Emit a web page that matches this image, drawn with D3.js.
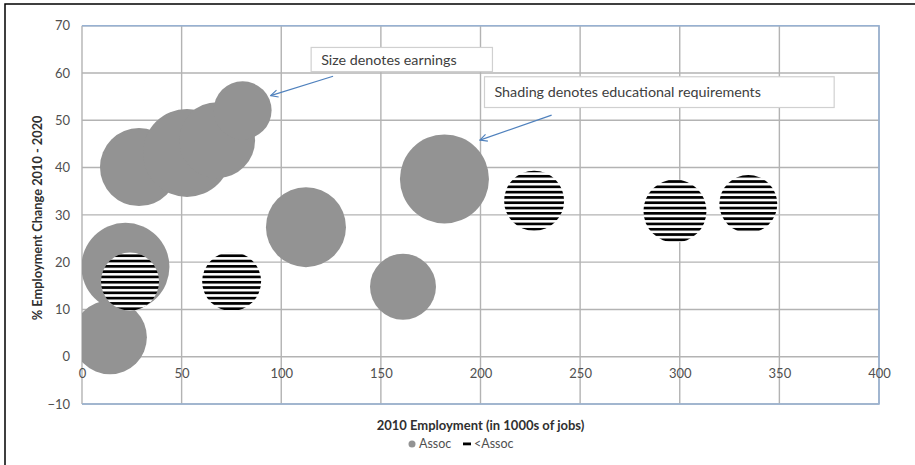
<!DOCTYPE html>
<html>
<head>
<meta charset="utf-8">
<script src="https://cdn.jsdelivr.net/npm/d3@7"></script>
<style>
  html, body { margin: 0; padding: 0; background: #fff; }
  svg { display: block; font-family: Lato, "Open Sans", sans-serif; }
</style>
</head>
<body>
<svg id="chart" width="915" height="465"></svg>
<script>
// ---- Data ----
// Series "Assoc" (solid gray bubbles)
const assocJobs     = [28.6, 52.7, 67.8, 80.6, 112.4, 181.9, 161.1, 21.8, 14.0];
const assocChange   = [40.1, 43.1, 45.8, 52.1, 27.4, 37.6, 14.8, 19.0, 4.1];
const assocEarnings = [48.7, 62.0, 46.2, 26.9, 51.2, 63.4, 34.8, 62.0, 43.8];
// Series "<Assoc" (striped bubbles)
const lessJobs      = [24.1, 75.1, 226.9, 297.6, 334.4];
const lessChange    = [15.9, 15.9, 33.0, 30.8, 32.3];
const lessEarnings  = [26.9, 27.8, 28.8, 31.8, 26.9];

const xTicks = [0, 50, 100, 150, 200, 250, 300, 350, 400];
const yTicks = [-10, 0, 10, 20, 30, 40, 50, 60, 70];

const xTitle = "2010 Employment (in 1000s of jobs)";
const yTitle = "% Employment Change 2010 - 2020";
const legendLabels = ["Assoc", "<Assoc"];

// annotations: text box corners and arrow ends in data units
const notes = [
  { text: "Size denotes earnings", x0: 115, x1: 206, y0: 65.4, y1: 60.3, ax0: 126, ay0: 59.3, ax1: 94.7, ay1: 55.2 },
  { text: "Shading denotes educational requirements", x0: 202, x1: 377.5, y0: 59.2, y1: 52.7, ax0: 235.7, ay0: 51.1, ax1: 199.7, ay1: 45.8 }
];

// ---- Layout ----
const svg = d3.select("#chart");
const plot = { left: 82, right: 879, top: 25.7, bottom: 404 };

const x = d3.scaleLinear().domain([0, 400]).range([plot.left, plot.right]);
const y = d3.scaleLinear().domain([-10, 70]).range([plot.bottom, plot.top]);
const r = d3.scaleSqrt().domain([0, 80]).range([0, 50]);

const textColor = "#505050";
const gridColor = "#b3b3b3";
const borderBlue = "#97b1d2";
const bubbleGray = "#939393";

// outer frame (extends beyond right/bottom edge)
svg.append("rect").attr("x", 5).attr("y", 4).attr("width", 930).attr("height", 480)
  .attr("fill", "none").attr("stroke", "#000").attr("stroke-width", 1.5);

const defs = svg.append("defs");
defs.append("clipPath").attr("id", "plotClip").append("rect")
  .attr("x", plot.left).attr("y", plot.top)
  .attr("width", plot.right - plot.left).attr("height", plot.bottom - plot.top);

const pat = defs.append("pattern").attr("id", "stripes")
  .attr("patternUnits", "userSpaceOnUse").attr("width", 10).attr("height", 5.3);
pat.append("rect").attr("width", 10).attr("height", 5.3).attr("fill", "#fff");
pat.append("rect").attr("y", 0).attr("width", 10).attr("height", 2.7).attr("fill", "#000");

defs.append("marker").attr("id", "arrow").attr("viewBox", "0 0 10 10")
  .attr("refX", 9).attr("refY", 5).attr("markerWidth", 9).attr("markerHeight", 9)
  .attr("orient", "auto").attr("markerUnits", "userSpaceOnUse")
  .append("path").attr("d", "M1,1 L9,5 L1,9").attr("fill", "none")
  .attr("stroke", "#4f81bd").attr("stroke-width", 1.3);

// gridlines
const g = svg.append("g");
g.selectAll(".vg").data(xTicks).join("line")
  .attr("x1", d => x(d)).attr("x2", d => x(d))
  .attr("y1", plot.top).attr("y2", plot.bottom)
  .attr("stroke", gridColor).attr("stroke-width", 1.4);
g.selectAll(".hg").data(yTicks).join("line")
  .attr("x1", plot.left).attr("x2", plot.right)
  .attr("y1", d => y(d)).attr("y2", d => y(d))
  .attr("stroke", gridColor).attr("stroke-width", 1.4);

// plot border (blue on top, right, bottom)
svg.append("path")
  .attr("d", `M${plot.left},${plot.top} H${plot.right} V${plot.bottom} H${plot.left}`)
  .attr("fill", "none").attr("stroke", borderBlue).attr("stroke-width", 1.6);

// tick labels
const yAxis = d3.axisLeft(y).tickValues(yTicks).tickSize(0).tickPadding(12);
const ya = svg.append("g").attr("transform", `translate(${plot.left},0)`).call(yAxis);
ya.select(".domain").remove();
ya.selectAll("text").attr("fill", textColor).style("font-size", "13px").style("font-family", "Lato");

const xAxis = d3.axisBottom(x).tickValues(xTicks).tickSize(0).tickPadding(12);
const xa = svg.append("g").attr("transform", `translate(0,${y(0)})`).call(xAxis);
xa.select(".domain").remove();
xa.selectAll("text").attr("fill", textColor).style("font-size", "13px").style("font-family", "Lato");

// bubbles
const assoc = assocJobs.map((d, i) => ({ x: d, y: assocChange[i], s: assocEarnings[i] }));
const less = lessJobs.map((d, i) => ({ x: d, y: lessChange[i], s: lessEarnings[i] }));

const bubbles = svg.append("g").attr("clip-path", "url(#plotClip)");
bubbles.selectAll(".a").data(assoc).join("circle")
  .attr("cx", d => x(d.x)).attr("cy", d => y(d.y)).attr("r", d => r(d.s))
  .attr("fill", bubbleGray);
bubbles.selectAll(".l").data(less).join("circle")
  .attr("cx", d => x(d.x)).attr("cy", d => y(d.y)).attr("r", d => r(d.s))
  .attr("fill", "url(#stripes)");

// annotations
notes.forEach(n => {
  svg.append("rect")
    .attr("x", x(n.x0)).attr("y", y(n.y0))
    .attr("width", x(n.x1) - x(n.x0)).attr("height", y(n.y1) - y(n.y0))
    .attr("fill", "#fff").attr("stroke", "#d0d0d0").attr("stroke-width", 1.2);
  svg.append("text")
    .attr("x", x(n.x0) + 10).attr("y", (y(n.y0) + y(n.y1)) / 2)
    .attr("dy", "0.35em").attr("fill", "#404040")
    .style("font-size", "14.3px").text(n.text);
  svg.append("line")
    .attr("x1", x(n.ax0)).attr("y1", y(n.ay0)).attr("x2", x(n.ax1)).attr("y2", y(n.ay1))
    .attr("stroke", "#4f81bd").attr("stroke-width", 1.2).attr("marker-end", "url(#arrow)");
});

// axis titles
svg.append("text").attr("x", (plot.left + plot.right) / 2).attr("y", 430)
  .attr("text-anchor", "middle").attr("fill", "#303030")
  .style("font-size", "13px").style("font-weight", "bold").text(xTitle);
svg.append("text")
  .attr("transform", `translate(42,${(plot.top + plot.bottom) / 2 + 3}) rotate(-90)`)
  .attr("text-anchor", "middle").attr("fill", "#303030")
  .style("font-size", "12.8px").style("font-weight", "bold").text(yTitle);

// legend
const leg = svg.append("g");
leg.append("circle").attr("cx", 412).attr("cy", 444).attr("r", 3.5).attr("fill", bubbleGray);
leg.append("text").attr("x", 419).attr("y", 444).attr("dy", "0.35em").attr("fill", textColor)
  .style("font-size", "12.5px").text(legendLabels[0]);
leg.append("rect").attr("x", 463).attr("y", 442.5).attr("width", 8).attr("height", 2.8).attr("fill", "#000");
leg.append("text").attr("x", 474).attr("y", 444).attr("dy", "0.35em").attr("fill", textColor)
  .style("font-size", "12.5px").text(legendLabels[1]);
</script>
</body>
</html>
